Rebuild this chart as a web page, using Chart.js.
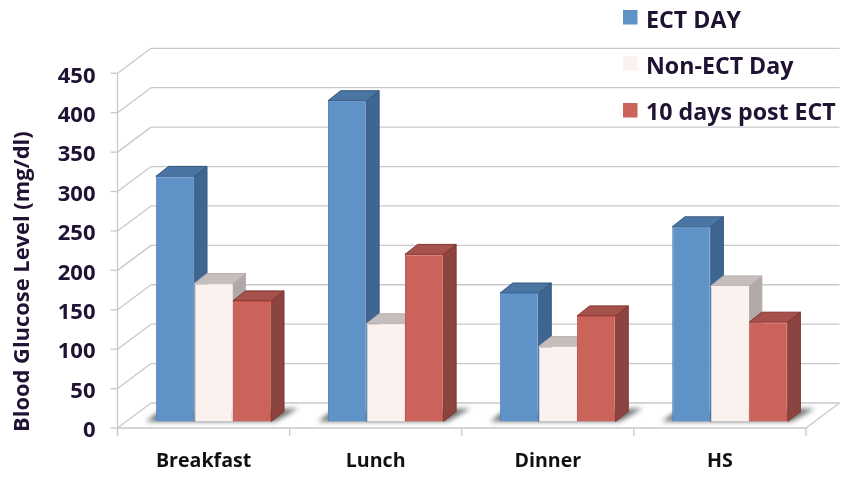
<!DOCTYPE html>
<html>
<head>
<meta charset="utf-8">
<style>
  html, body { margin: 0; padding: 0; background: #fff; }
  canvas { display: block; }
</style>
<script src="https://cdn.jsdelivr.net/npm/chart.js@4"></script>
</head>
<body>
<canvas id="chart" width="841" height="477"></canvas>
<script>
const categories = ['Breakfast', 'Lunch', 'Dinner', 'HS'];
const ectDay = [311, 407, 163, 247];
const nonEctDay = [175, 124, 95, 172];
const postEct = [153, 212, 134, 126];
const yMax = 450;
const yStep = 50;
const yTitle = 'Blood Glucose Level (mg/dl)';

const textColor = '#1f1233';
const gridColor = '#c9c9c9';

// wall depth of the 3d box and the depth of the bars standing in it
const wall = { dx: 33.5, dy: -25 };
const barDepth = { dx: 12.7, dy: -10 };
const barShift = { dx: 10, dy: -6.5 };

const legendRows = [
  { box: 10, text: 21.5 },
  { box: 56, text: 67.5 },
  { box: 103, text: 113.5 }
];

function line(ctx, x1, y1, x2, y2) {
  ctx.beginPath();
  ctx.moveTo(x1, y1);
  ctx.lineTo(x2, y2);
  ctx.stroke();
}

function poly(ctx, pts, fill, stroke) {
  ctx.beginPath();
  pts.forEach((p, i) => i ? ctx.lineTo(p[0], p[1]) : ctx.moveTo(p[0], p[1]));
  ctx.closePath();
  ctx.fillStyle = fill;
  ctx.fill();
  if (stroke) {
    ctx.strokeStyle = stroke;
    ctx.lineWidth = 1;
    ctx.stroke();
  }
}

const box3d = {
  id: 'box3d',
  beforeDatasetsDraw(chart) {
    const { ctx, chartArea: a, scales: { x, y } } = chart;
    ctx.save();
    ctx.strokeStyle = gridColor;
    ctx.lineWidth = 1.3;

    // walls
    for (let v = 0; v <= yMax; v += yStep) {
      const py = y.getPixelForValue(v);
      line(ctx, a.left - 7, py, a.left, py);
      line(ctx, a.left, py, a.left + wall.dx, py + wall.dy);
      line(ctx, a.left + wall.dx, py + wall.dy, a.right + wall.dx, py + wall.dy);
    }
    line(ctx, a.left, y.getPixelForValue(yMax), a.left, a.bottom + 8);

    // floor
    line(ctx, a.left, a.bottom, a.right, a.bottom);
    line(ctx, a.right, a.bottom, a.right + wall.dx, a.bottom + wall.dy);
    const step = (a.right - a.left) / categories.length;
    for (let i = 0; i <= categories.length; i++) {
      line(ctx, a.left + i * step, a.bottom, a.left + i * step, a.bottom + 8);
    }

    // soft shadow on the floor behind each group
    const first = chart.getDatasetMeta(0).data;
    const last = chart.getDatasetMeta(2).data;
    ctx.filter = 'blur(2.5px)';
    first.forEach((bar, i) => {
      const l = bar.x - bar.width / 2 + barShift.dx;
      const r = last[i].x + last[i].width / 2 + barShift.dx;
      const b = bar.base + barShift.dy;
      poly(ctx, [[l - 10, b], [l + 2, b - 9], [r + 27, b - 13], [r + 4, b]], '#6f7272');
    });
    ctx.filter = 'none';
    ctx.restore();

    // y tick labels sit a little under their gridline in the original
    ctx.save();
    ctx.font = 'bold 22px "Open Sans"';
    ctx.fillStyle = textColor;
    ctx.textAlign = 'right';
    ctx.textBaseline = 'middle';
    y.ticks.forEach(t => ctx.fillText(t.value, 95.5, y.getPixelForValue(t.value) + 3));
    ctx.restore();

    // y title, starts at the foot of the axis
    ctx.save();
    ctx.translate(29, 432);
    ctx.rotate(-Math.PI / 2);
    ctx.font = 'bold 21.9px "Open Sans"';
    ctx.fillStyle = textColor;
    ctx.textAlign = 'left';
    ctx.textBaseline = 'alphabetic';
    ctx.fillText(yTitle, 0, 0);
    ctx.restore();

    ctx.save();
    ctx.translate(barShift.dx, barShift.dy);
    // side and top faces, left bar first so the next bar's front covers them
    chart.data.datasets.forEach((ds, idx) => {
      chart.getDatasetMeta(idx).data.forEach(bar => {
        const l = bar.x - bar.width / 2;
        const r = bar.x + bar.width / 2;
        const t = bar.y;
        const b = bar.base;
        const dx = barDepth.dx;
        const dy = barDepth.dy;
        poly(ctx, [[r, t], [r + dx, t + dy], [r + dx, b + dy], [r, b]], ds.sideColor, ds.edgeColor);
        poly(ctx, [[l, t], [l + dx, t + dy], [r + dx, t + dy], [r, t]], ds.topColor, ds.edgeColor);
      });
    });
  },
  afterDatasetsDraw(chart) {
    const { ctx } = chart;
    ctx.restore();

    // legend
    ctx.save();
    ctx.font = 'bold 23.2px "Open Sans"';
    ctx.textBaseline = 'middle';
    chart.data.datasets.forEach((ds, i) => {
      ctx.fillStyle = ds.backgroundColor;
      ctx.fillRect(623, legendRows[i].box, 14.5, 14.5);
      ctx.fillStyle = textColor;
      ctx.fillText(ds.label, 646, legendRows[i].text);
    });
    ctx.restore();
  }
};

new Chart(document.getElementById('chart').getContext('2d'), {
  type: 'bar',
  data: {
    labels: categories,
    datasets: [
      { label: 'ECT DAY', data: ectDay, backgroundColor: '#5f93c8', borderColor: '#4f81bd', sideColor: '#3f6690', topColor: '#4a75a3', edgeColor: '#35587f' },
      { label: 'Non-ECT Day', data: nonEctDay, backgroundColor: '#fbf1ef', borderColor: '#fbf1ef', sideColor: '#b0a9a8', topColor: '#c6bebd', edgeColor: '#b8b0af' },
      { label: '10 days post ECT', data: postEct, backgroundColor: '#cc635a', borderColor: '#c0504d', sideColor: '#8c4440', topColor: '#a5524c', edgeColor: '#83322e' }
    ]
  },
  options: {
    responsive: false,
    animation: false,
    devicePixelRatio: 1,
    datasets: {
      bar: { categoryPercentage: 0.671, barPercentage: 1, borderWidth: 1, clip: false }
    },
    layout: { padding: { left: 0, top: 73.3, right: 35, bottom: 0 } },
    plugins: {
      legend: { display: false },
      tooltip: { enabled: false }
    },
    scales: {
      x: {
        grid: { display: false, drawTicks: false },
        border: { display: false },
        ticks: { color: '#111', font: { family: '"Open Sans"', size: 19.6, weight: 'bold' }, padding: 22, maxRotation: 0 },
        afterFit(s) { s.height = 49; }
      },
      y: {
        min: 0,
        max: yMax,
        grid: { display: false, drawTicks: false },
        border: { display: false },
        ticks: { display: false, stepSize: yStep },
        afterFit(s) { s.width = 117.5; }
      }
    }
  },
  plugins: [box3d]
});
</script>
</body>
</html>
